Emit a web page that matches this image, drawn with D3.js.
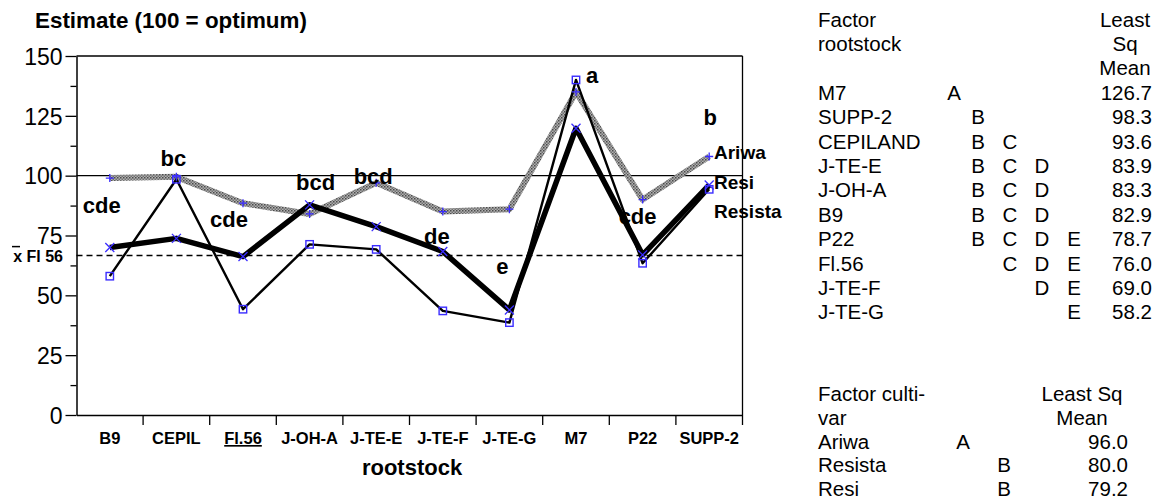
<!DOCTYPE html>
<html>
<head>
<meta charset="utf-8">
<script src="https://cdn.jsdelivr.net/npm/d3@7"></script>
<style>
  body { margin: 0; background: #fff; }
  svg text { font-family: "Liberation Sans", Arial, sans-serif; fill: #000; }
</style>
</head>
<body>
<div class="chart"></div>
<script>
// rootstocks on the x axis
const rootstocks = ["B9", "CEPIL", "Fl.56", "J-OH-A", "J-TE-E", "J-TE-F", "J-TE-G", "M7", "P22", "SUPP-2"];

// estimates per cultivar (100 = optimum)
const ariwa   = [99, 99.5, 88.5, 84, 97, 85, 86, 135, 90, 108];
const resista = [58, 98.5, 44.2, 71.3, 69.2, 43.5, 38.6, 140, 63.4, 94.3];
const resi    = [70, 73.8, 66.2, 87.8, 78.7, 68.3, 43.9, 119.8, 66.9, 96.1];

// significance letters above the points
const letters = ["cde", "bc", "cde", "bcd", "bcd", "de", "e", "a", "cde", "b"];
const letterAt = [84.4, 104.1, 78.7, 93.9, 96.5, 71.4, 58.9, 138.9, 79.8, 121.2];

const meanFl56 = 66.6;
const optimum = 100;
const yTicks = [0, 25, 50, 75, 100, 125, 150];

// table: factor rootstock
const tableRoot = ["M7", "SUPP-2", "CEPILAND", "J-TE-E", "J-OH-A", "B9", "P22", "Fl.56", "J-TE-F", "J-TE-G"];
const tableRootGroups = ["A", "B", "BC", "BCD", "BCD", "BCD", "BCDE", "CDE", "DE", "E"];
const tableRootMeans = ["126.7", "98.3", "93.6", "83.9", "83.3", "82.9", "78.7", "76.0", "69.0", "58.2"];

// table: factor cultivar
const tableCult = ["Ariwa", "Resista", "Resi"];
const tableCultGroups = ["A", "B", "B"];
const tableCultMeans = ["96.0", "80.0", "79.2"];

const W = 1157, H = 501;
const pLeft = 76.5, pRight = 742.5, pTop = 56, pBottom = 415;

const svg = d3.select(".chart").append("svg")
    .attr("width", W)
    .attr("height", H);

// checker pattern for the grey line
const defs = svg.append("defs");
const pat = defs.append("pattern")
    .attr("id", "checker")
    .attr("width", 3).attr("height", 3)
    .attr("patternUnits", "userSpaceOnUse");
pat.append("rect").attr("width", 3).attr("height", 3).attr("fill", "#b0b0b0");
pat.append("rect").attr("width", 1.5).attr("height", 1.5).attr("fill", "#4a4a4a");
pat.append("rect").attr("x", 1.5).attr("y", 1.5).attr("width", 1.5).attr("height", 1.5).attr("fill", "#707070");

// scales
const xScale = d3.scaleBand().domain(rootstocks).range([pLeft, pRight]);
const yScale = d3.scaleLinear().domain([0, 150]).range([pBottom, pTop]);
const cx = d => xScale(d) + xScale.bandwidth() / 2;

// title
svg.append("text")
    .attr("x", 35).attr("y", 28)
    .style("font-size", "22.4px").style("font-weight", "bold")
    .text("Estimate (100 = optimum)");

// frame top and right
svg.append("line")
    .attr("x1", pLeft).attr("x2", pRight).attr("y1", pTop).attr("y2", pTop)
    .attr("stroke", "#000").attr("stroke-width", 1.3);
svg.append("line")
    .attr("x1", pRight).attr("x2", pRight).attr("y1", pTop).attr("y2", pBottom + 10)
    .attr("stroke", "#000").attr("stroke-width", 1.3);

// y axis
const yAxis = d3.axisLeft(yScale).tickValues(yTicks).tickSize(11).tickSizeOuter(0).tickPadding(3);
const gy = svg.append("g").attr("transform", `translate(${pLeft},0)`).call(yAxis);
gy.select(".domain").attr("stroke-width", 1.5);
gy.selectAll(".tick line").attr("stroke-width", 1.3);
gy.selectAll(".tick text")
    .attr("dy", "0.36em")
    .style("font-size", "23px")
    .style("font-family", "'Liberation Sans', Arial, sans-serif");

const minor = yTicks.slice(0, -1).map(v => v + 12.5);
const gyMinor = svg.append("g").attr("transform", `translate(${pLeft},0)`)
    .call(d3.axisLeft(yScale).tickValues(minor).tickSize(6).tickFormat(""));
gyMinor.select(".domain").remove();
gyMinor.selectAll(".tick line").attr("stroke-width", 1.3);

// x axis
const xAxis = d3.axisBottom(xScale).tickSize(0).tickSizeOuter(0).tickPadding(0);
const gx = svg.append("g").attr("transform", `translate(0,${pBottom})`).call(xAxis);
gx.select(".domain").attr("stroke-width", 1.5);
gx.selectAll(".tick text")
    .attr("y", 29).attr("dy", 0)
    .style("font-size", "16.5px").style("font-weight", "bold")
    .style("font-family", "'Liberation Sans', Arial, sans-serif")
    .style("text-decoration", d => d === "Fl.56" ? "underline" : null);

// band separators under the x axis
svg.append("g").selectAll("line")
    .data(rootstocks.slice(1))
    .join("line")
    .attr("x1", d => xScale(d)).attr("x2", d => xScale(d))
    .attr("y1", pBottom).attr("y2", pBottom + 10)
    .attr("stroke", "#000").attr("stroke-width", 1.3);

svg.append("text")
    .attr("x", 412).attr("y", 475)
    .attr("text-anchor", "middle")
    .style("font-size", "22px").style("font-weight", "bold")
    .text("rootstock");

// reference lines
svg.append("line")
    .attr("x1", pLeft).attr("x2", pRight)
    .attr("y1", yScale(optimum)).attr("y2", yScale(optimum))
    .attr("stroke", "#000").attr("stroke-width", 1.2);
svg.append("line")
    .attr("x1", pLeft).attr("x2", pRight)
    .attr("y1", yScale(meanFl56)).attr("y2", yScale(meanFl56))
    .attr("stroke", "#000").attr("stroke-width", 1.5)
    .attr("stroke-dasharray", "6,4");

svg.append("text")
    .attr("x", 63).attr("y", yScale(meanFl56) + 6)
    .attr("text-anchor", "end")
    .style("font-size", "16px").style("font-weight", "bold")
    .text("x Fl 56");
svg.append("line")
    .attr("x1", 12).attr("x2", 20)
    .attr("y1", yScale(meanFl56) - 9).attr("y2", yScale(meanFl56) - 9)
    .attr("stroke", "#000").attr("stroke-width", 1.5);

// lines
const line = d3.line().x((d, i) => cx(rootstocks[i])).y(d => yScale(d));

svg.append("path").datum(ariwa)
    .attr("d", line).attr("fill", "none")
    .attr("stroke", "url(#checker)").attr("stroke-width", 6)
    .attr("stroke-linejoin", "round");
svg.append("path").datum(resista)
    .attr("d", line).attr("fill", "none")
    .attr("stroke", "#000").attr("stroke-width", 2.4)
    .attr("stroke-linejoin", "round");
svg.append("path").datum(resi)
    .attr("d", line).attr("fill", "none")
    .attr("stroke", "#000").attr("stroke-width", 5.5)
    .attr("stroke-linejoin", "round");

// markers
const blue = "#3a2cff";
svg.append("g").selectAll("path")
    .data(ariwa)
    .join("path")
    .attr("d", (d, i) => {
        const x = cx(rootstocks[i]), y = yScale(d);
        return `M${x - 4},${y}H${x + 4}M${x},${y - 4}V${y + 4}`;
    })
    .attr("stroke", blue).attr("stroke-width", 1.3);
svg.append("g").selectAll("rect")
    .data(resista)
    .join("rect")
    .attr("x", (d, i) => cx(rootstocks[i]) - 3.7)
    .attr("y", d => yScale(d) - 3.7)
    .attr("width", 7.4).attr("height", 7.4)
    .attr("fill", "none").attr("stroke", blue).attr("stroke-width", 1.4);
svg.append("g").selectAll("path")
    .data(resi)
    .join("path")
    .attr("d", (d, i) => {
        const x = cx(rootstocks[i]), y = yScale(d);
        return `M${x - 4.5},${y - 4.5}L${x + 4.5},${y + 4.5}M${x - 4.5},${y + 4.5}L${x + 4.5},${y - 4.5}`;
    })
    .attr("stroke", blue).attr("stroke-width", 1.3);

// significance letters
const letterDx = [-8, -3, -14, 6, -3, -6, -7, 16, -5, 1];
svg.append("g").selectAll("text")
    .data(letters)
    .join("text")
    .attr("x", (d, i) => cx(rootstocks[i]) + letterDx[i])
    .attr("y", (d, i) => yScale(letterAt[i]))
    .attr("text-anchor", "middle")
    .style("font-size", "22px").style("font-weight", "bold")
    .text(d => d);

// series labels at the right end
const seriesNames = ["Ariwa", "Resi", "Resista"];
svg.append("g").selectAll("text")
    .data(seriesNames)
    .join("text")
    .attr("x", 714)
    .attr("y", (d, i) => 159 + i * 29.5)
    .style("font-size", "19px").style("font-weight", "bold")
    .text(d => d);

// table: factor rootstock
const fs = "20.5px";
const rowH = 24.4;
const tbl = svg.append("g");
tbl.append("text").attr("x", 818).attr("y", 26.5).style("font-size", fs).text("Factor");
tbl.append("text").attr("x", 818).attr("y", 26.5 + rowH).style("font-size", fs).text("rootstock");
["Least", "Sq", "Mean"].forEach((t, i) => {
    tbl.append("text").attr("x", 1125).attr("y", 26.5 + i * rowH)
        .attr("text-anchor", "middle").style("font-size", fs).text(t);
});
const colX = { A: 954, B: 978, C: 1010, D: 1042, E: 1074 };
tableRoot.forEach((name, i) => {
    const y = 26.5 + (i + 3) * rowH;
    tbl.append("text").attr("x", 818).attr("y", y).style("font-size", fs).text(name);
    tableRootGroups[i].split("").forEach(g => {
        tbl.append("text").attr("x", colX[g]).attr("y", y)
            .attr("text-anchor", "middle").style("font-size", fs).text(g);
    });
    tbl.append("text").attr("x", 1152).attr("y", y)
        .attr("text-anchor", "end").style("font-size", fs).text(tableRootMeans[i]);
});

// table: factor cultivar
const y0 = 401;
const rowH2 = 23.8;
tbl.append("text").attr("x", 818).attr("y", y0).style("font-size", fs).text("Factor culti-");
tbl.append("text").attr("x", 818).attr("y", y0 + rowH2).style("font-size", fs).text("var");
tbl.append("text").attr("x", 1082).attr("y", y0).attr("text-anchor", "middle").style("font-size", fs).text("Least Sq");
tbl.append("text").attr("x", 1082).attr("y", y0 + rowH2).attr("text-anchor", "middle").style("font-size", fs).text("Mean");
const colX2 = { A: 963, B: 1004 };
tableCult.forEach((name, i) => {
    const y = y0 + (i + 2) * rowH2;
    tbl.append("text").attr("x", 818).attr("y", y).style("font-size", fs).text(name);
    tbl.append("text").attr("x", colX2[tableCultGroups[i]]).attr("y", y)
        .attr("text-anchor", "middle").style("font-size", fs).text(tableCultGroups[i]);
    tbl.append("text").attr("x", 1128).attr("y", y)
        .attr("text-anchor", "end").style("font-size", fs).text(tableCultMeans[i]);
});
</script>
</body>
</html>
